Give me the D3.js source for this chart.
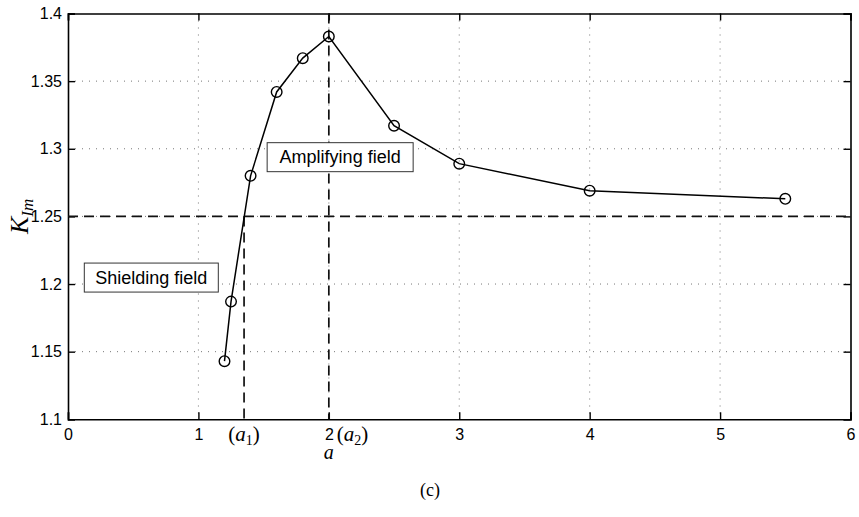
<!DOCTYPE html>
<html><head><meta charset="utf-8">
<script src="https://cdn.jsdelivr.net/npm/d3@7"></script>
<style>body{margin:0;background:#fff}svg{display:block}</style>
</head><body>
<svg id="c" width="859" height="517"></svg>
<script>
const aValues = [1.2, 1.25, 1.4, 1.6, 1.8, 2.0, 2.5, 3, 4, 5.5];
const kValues = [1.143, 1.187, 1.280, 1.342, 1.367, 1.383, 1.317, 1.289, 1.269, 1.263];
const xTicks = [0, 1, 2, 3, 4, 5, 6];
const yTicks = [1.1, 1.15, 1.2, 1.25, 1.3, 1.35, 1.4];
const threshold = 1.25;
const a1 = 1.35, a2 = 2.0;

const svg = d3.select('#c');
const L = 68, R = 850.5, T = 13.5, B = 419.3;
const x = d3.scaleLinear().domain([0, 6]).range([L, R]);
const y = d3.scaleLinear().domain([1.1, 1.4]).range([B, T]);
const sans = 'Liberation Sans, Arial, sans-serif';
const serif = 'Liberation Serif, DejaVu Serif, serif';

// grid
const g = svg.append('g');
g.selectAll('.gx').data(xTicks.slice(1, -1)).enter().append('line')
  .attr('x1', d => x(d)).attr('x2', d => x(d)).attr('y1', T).attr('y2', B)
  .attr('stroke', '#777').attr('stroke-width', 1).attr('stroke-dasharray', '1,6');
g.selectAll('.gy').data(yTicks.slice(1, -1)).enter().append('line')
  .attr('y1', d => y(d)).attr('y2', d => y(d)).attr('x1', L).attr('x2', R)
  .attr('stroke', '#777').attr('stroke-width', 1).attr('stroke-dasharray', '1,6');

// axes with inward ticks
const axB = d3.axisBottom(x).tickValues(xTicks).tickSize(-7).tickPadding(9).tickFormat(d => d);
const axT = d3.axisTop(x).tickValues(xTicks).tickSize(-7).tickFormat('');
const axL = d3.axisLeft(y).tickValues(yTicks).tickSize(-7).tickPadding(6).tickFormat(d => d3.format('')(+d.toFixed(2)));
const axR = d3.axisRight(y).tickValues(yTicks).tickSize(-7).tickFormat('');
function style(sel) {
  sel.selectAll('path').attr('stroke', '#000').attr('stroke-width', 1.6);
  sel.selectAll('line').attr('stroke', '#000').attr('stroke-width', 1.4);
  sel.selectAll('text').attr('font-family', sans).attr('font-size', 16).attr('fill', '#000');
}
style(svg.append('g').attr('transform', `translate(0,${B})`).call(axB));
style(svg.append('g').attr('transform', `translate(0,${T})`).call(axT));
style(svg.append('g').attr('transform', `translate(${L},0)`).call(axL));
style(svg.append('g').attr('transform', `translate(${R},0)`).call(axR));

// dashed reference lines
const dash = '10,6';
svg.append('line').attr('x1', L).attr('x2', R).attr('y1', y(threshold)).attr('y2', y(threshold))
  .attr('stroke', '#111').attr('stroke-width', 1.7).attr('stroke-dasharray', dash);
svg.append('line').attr('x1', x(a1)).attr('x2', x(a1)).attr('y1', y(threshold)).attr('y2', B)
  .attr('stroke', '#111').attr('stroke-width', 1.7).attr('stroke-dasharray', dash);
svg.append('line').attr('x1', x(a2)).attr('x2', x(a2)).attr('y1', T).attr('y2', B)
  .attr('stroke', '#111').attr('stroke-width', 1.7).attr('stroke-dasharray', dash);

// data line
const pts = aValues.map((a, i) => [a, kValues[i]]);
svg.append('path').datum(pts)
  .attr('d', d3.line().x(d => x(d[0])).y(d => y(d[1])))
  .attr('fill', 'none').attr('stroke', '#000').attr('stroke-width', 1.5);
svg.selectAll('.m').data(pts).enter().append('circle')
  .attr('cx', d => x(d[0])).attr('cy', d => y(d[1])).attr('r', 5.3)
  .attr('fill', 'none').attr('stroke', '#000').attr('stroke-width', 1.4);

// text boxes
function box(xl, yt, w, h, txt) {
  svg.append('rect').attr('x', xl).attr('y', yt).attr('width', w).attr('height', h)
    .attr('fill', '#fff').attr('stroke', '#333').attr('stroke-width', 1);
  svg.append('text').attr('x', xl + w / 2).attr('y', yt + h / 2 + 6).attr('text-anchor', 'middle')
    .attr('font-family', sans).attr('font-size', 18).text(txt);
}
box(x(1.527), y(1.3045), 146, 29, 'Amplifying field');
box(x(0.125), y(1.2155), 134, 29, 'Shielding field');

// math labels
function sub(xp, yp, main, s, anchor) {
  const t = svg.append('text').attr('x', xp).attr('y', yp).attr('text-anchor', anchor || 'middle')
    .attr('font-family', serif).attr('font-size', 21);
  t.append('tspan').text('(');
  t.append('tspan').attr('font-style', 'italic').text(main);
  t.append('tspan').attr('font-size', 14).attr('dy', 4).text(s);
  t.append('tspan').attr('dy', -4).text(')');
}
sub(x(a1), 441, 'a', '1');
sub(x(a2) + 8, 441, 'a', '2', 'start');

svg.append('text').attr('x', x(2)).attr('y', 459).attr('text-anchor', 'middle')
  .attr('font-family', serif).attr('font-style', 'italic').attr('font-size', 20).text('a');

const yl = svg.append('text').attr('transform', `translate(28,${y(1.25)}) rotate(-90)`)
  .attr('text-anchor', 'middle').attr('font-family', serif).attr('font-size', 26);
yl.append('tspan').attr('font-style', 'italic').text('K');
yl.append('tspan').attr('font-style', 'italic').attr('font-size', 17).attr('dy', 5).text('Im');

svg.append('text').attr('x', 430).attr('y', 496).attr('text-anchor', 'middle')
  .attr('font-family', serif).attr('font-size', 18).text('(c)');
</script>
</body></html>
